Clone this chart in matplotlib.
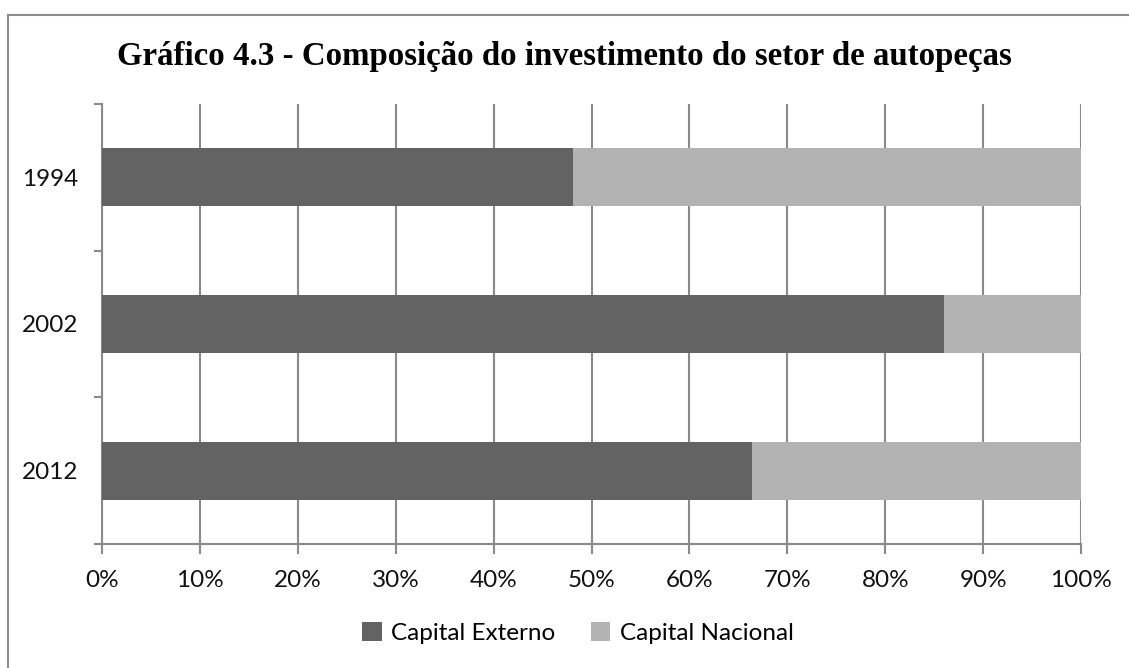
import matplotlib
matplotlib.use("Agg")
import matplotlib.pyplot as plt
from matplotlib.lines import Line2D
from matplotlib.patches import Patch
from matplotlib.ticker import FuncFormatter, MultipleLocator

years = ["1994", "2002", "2012"]
capital_externo = [48.1, 86.0, 66.4]
capital_nacional = [100 - v for v in capital_externo]
series_names = ["Capital Externo", "Capital Nacional"]
colors = ["#636363", "#b3b3b3"]

W, H = 1129, 668
fig = plt.figure(figsize=(W / 100, H / 100), dpi=100)
ax = fig.add_axes([102 / W, 1 - 544 / H, (1081 - 102) / W, (544 - 104) / H])

pos = list(range(len(years)))
ax.barh(pos, capital_externo, height=0.395, color=colors[0], zorder=3)
ax.barh(pos, capital_nacional, left=capital_externo, height=0.395, color=colors[1], zorder=3)

ax.set_xlim(0, 100)
ax.set_ylim(2.5, -0.5)
ax.xaxis.set_major_locator(MultipleLocator(10))
ax.xaxis.set_major_formatter(FuncFormatter(lambda v, p: f"{int(round(v))}%"))
ax.set_yticks(pos)
ax.set_yticklabels(years)
ax.set_yticks([-0.5, 0.5, 1.5, 2.5], minor=True)

grid_c = "#8a8a8a"
ax.grid(axis="x", color=grid_c, linewidth=1.5, zorder=0)
for s in ["top", "right"]:
    ax.spines[s].set_visible(False)
for s in ["left", "bottom"]:
    ax.spines[s].set_color(grid_c)
    ax.spines[s].set_linewidth(1.5)

font = "Lato"
ax.tick_params(axis="x", which="major", length=7, width=1.5, color=grid_c, pad=12,
               labelsize=17.5, labelcolor="#111111")
ax.tick_params(axis="y", which="major", length=0, pad=17, labelsize=17.5, labelcolor="#111111")
ax.tick_params(axis="y", which="minor", length=6, width=1.5, color=grid_c)
for lab in ax.get_xticklabels() + ax.get_yticklabels():
    lab.set_fontfamily(font)

fig.text(0.5, 1 - 56 / H, "Gráfico 4.3 - Composição do investimento do setor de autopeças",
         ha="center", va="center", fontsize=23.7, fontweight="bold",
         family="Liberation Serif", color="#000000")

handles = [Patch(facecolor=c, edgecolor="none") for c in colors]
fig.legend(handles, series_names, loc="center", bbox_to_anchor=(578 / W, 1 - 633 / H),
           ncol=2, frameon=False, handlelength=0.8, handleheight=0.8,
           handletextpad=0.4, columnspacing=1.45,
           prop={"family": font, "size": 17.5})

bc = "#8c8c8c"
fig.add_artist(Line2D([7.5 / W, 1], [1 - 14.5 / H, 1 - 14.5 / H], transform=fig.transFigure,
                      color=bc, linewidth=1.5))
fig.add_artist(Line2D([7.5 / W, 7.5 / W], [0, 1 - 14.5 / H], transform=fig.transFigure,
                      color=bc, linewidth=1.5))

fig.savefig("out.png", dpi=100, facecolor="white")
